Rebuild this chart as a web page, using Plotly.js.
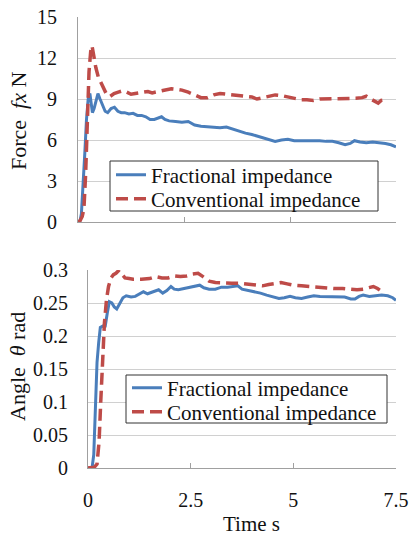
<!DOCTYPE html>
<html>
<head>
<meta charset="utf-8">
<script src="https://cdn.plot.ly/plotly-3.0.1.min.js"></script>
<style>html,body{margin:0;padding:0;background:#fff;}#chart{width:409px;height:537px;}</style>
</head>
<body>
<div id="chart"></div>
<script>
// Force plot (top)
const forceFracT = [0,0.05,0.08,0.12,0.16,0.2,0.24,0.28,0.31,0.34,0.38,0.42,0.47,0.52,0.58,0.64,0.7,0.78,0.86,0.94,1.02,1.1,1.2,1.3,1.4,1.5,1.6,1.7,1.8,1.9,1.97,2.05,2.15,2.3,2.45,2.6,2.75,2.9,3.05,3.2,3.35,3.5,3.65,3.8,3.95,4.1,4.25,4.4,4.55,4.65,4.8,4.95,5.1,5.25,5.4,5.55,5.7,5.85,6.0,6.15,6.3,6.42,6.52,6.65,6.8,6.95,7.1,7.25,7.38,7.5];
const forceFrac = [0,0.1,0.6,2.5,5,7.5,9.0,9.4,8.6,8.0,8.3,8.9,9.4,9.0,8.5,8.1,8.0,8.3,8.4,8.1,8.0,8.0,7.9,7.95,7.8,7.8,7.7,7.5,7.5,7.65,7.7,7.5,7.4,7.35,7.3,7.35,7.1,7.0,6.95,6.95,6.9,6.95,6.8,6.6,6.5,6.4,6.25,6.1,6.0,5.9,6.0,6.05,5.95,5.95,6.0,6.0,5.95,5.9,5.9,5.8,5.65,5.75,5.95,5.85,5.8,5.85,5.8,5.75,5.65,5.5];
const forceConvT = [0,0.05,0.1,0.14,0.18,0.22,0.26,0.3,0.33,0.37,0.42,0.48,0.54,0.6,0.68,0.76,0.85,0.95,1.05,1.15,1.25,1.35,1.5,1.65,1.75,1.9,2.05,2.2,2.35,2.45,2.6,2.75,2.9,3.05,3.2,3.35,3.5,3.65,3.8,3.95,4.1,4.22,4.35,4.5,4.65,4.8,4.95,5.1,5.25,5.4,5.55,5.7,5.85,6.0,6.2,6.4,6.55,6.7,6.8,6.9,7.0,7.08,7.15,7.28];
const forceConv = [0,0.1,0.4,1.0,3.5,7.5,11,12.5,12.9,12.2,11.3,10.6,10.2,9.7,9.3,9.2,9.4,9.5,9.6,9.5,9.35,9.4,9.5,9.55,9.45,9.55,9.6,9.75,9.7,9.65,9.5,9.3,9.1,9.1,9.3,9.4,9.35,9.3,9.3,9.2,9.15,9.0,9.1,9.2,9.3,9.25,9.15,9.05,8.95,8.95,8.9,9.0,9.0,9.0,9.0,9.0,9.05,9.1,9.2,9.0,8.8,8.7,8.9,8.95];

// Angle plot (bottom)
const angleFracT = [0,0.1,0.14,0.18,0.22,0.26,0.3,0.36,0.42,0.47,0.52,0.58,0.64,0.7,0.77,0.85,0.93,1.05,1.15,1.25,1.35,1.45,1.55,1.65,1.72,1.82,1.92,2.02,2.1,2.2,2.35,2.5,2.62,2.72,2.82,2.95,3.1,3.25,3.4,3.55,3.65,3.75,3.9,4.05,4.2,4.35,4.5,4.65,4.78,4.92,5.05,5.2,5.35,5.5,5.65,5.8,5.95,6.1,6.25,6.4,6.5,6.6,6.7,6.85,7.0,7.15,7.3,7.42,7.5];
const angleFrac = [0,0.001,0.02,0.09,0.16,0.19,0.213,0.215,0.215,0.235,0.252,0.25,0.244,0.241,0.25,0.258,0.261,0.259,0.26,0.264,0.267,0.264,0.266,0.268,0.27,0.265,0.269,0.275,0.271,0.27,0.272,0.273,0.275,0.277,0.273,0.271,0.271,0.274,0.274,0.275,0.276,0.271,0.269,0.268,0.265,0.262,0.26,0.257,0.258,0.26,0.258,0.257,0.259,0.261,0.26,0.26,0.259,0.259,0.259,0.256,0.256,0.26,0.262,0.26,0.261,0.262,0.261,0.258,0.254];
const angleConvT = [0,0.15,0.22,0.27,0.31,0.35,0.4,0.45,0.5,0.56,0.62,0.68,0.76,0.82,0.9,1.0,1.1,1.3,1.5,1.65,1.8,1.95,2.1,2.25,2.4,2.55,2.68,2.8,2.95,3.1,3.3,3.5,3.7,3.9,4.1,4.25,4.4,4.55,4.7,4.85,5.0,5.2,5.4,5.6,5.8,6.0,6.2,6.4,6.55,6.7,6.85,6.95,7.05,7.12];
const angleConv = [0,0.001,0.006,0.04,0.1,0.16,0.22,0.255,0.275,0.288,0.293,0.295,0.3,0.294,0.288,0.287,0.286,0.286,0.287,0.29,0.288,0.288,0.291,0.29,0.291,0.294,0.295,0.29,0.283,0.281,0.28,0.28,0.28,0.279,0.277,0.276,0.278,0.28,0.281,0.279,0.277,0.276,0.275,0.273,0.272,0.272,0.272,0.271,0.27,0.271,0.274,0.275,0.272,0.269];

const seriesNames = ['Fractional impedance', 'Conventional impedance'];
const forceTicks = [0,3,6,9,12,15];
const angleTicks = [0,0.05,0.1,0.15,0.2,0.25,0.3];
const angleTickText = ['0','0.05','0.1','0.15','0.2','0.25','0.3'];
const timeTicks = [0,2.5,5,7.5];
const timeTickText = ['0','2.5','5','7.5'];

const blue = '#4a7ebb';
const red = '#be4b48';
const serif = "'Liberation Serif'";
const W = 409, H = 537;
const px = v => v / W;
const py = v => (H - v) / H;

const traces = [
  {x: forceFracT, y: forceFrac, name: seriesNames[0], type: 'scatter', mode: 'lines', xaxis: 'x', yaxis: 'y', legend: 'legend',
   line: {color: blue, width: 3}},
  {x: forceConvT, y: forceConv, name: seriesNames[1], type: 'scatter', mode: 'lines', xaxis: 'x', yaxis: 'y', legend: 'legend2',
   line: {color: red, width: 3.5, dash: '12px,6px'}},
  {x: angleFracT, y: angleFrac, name: seriesNames[0], type: 'scatter', mode: 'lines', xaxis: 'x2', yaxis: 'y2', legend: 'legend3',
   line: {color: blue, width: 3}},
  {x: angleConvT, y: angleConv, name: seriesNames[1], type: 'scatter', mode: 'lines', xaxis: 'x2', yaxis: 'y2', legend: 'legend4',
   line: {color: red, width: 3.5, dash: '12px,6px'}}
];

const gridC = '#d0d0d0';
const axisC = '#a0a0a0';
const tickFont = {family: serif, size: 20, color: '#111'};
const legFont = {family: serif, size: 21, color: '#111'};
const titleFont = {family: serif, size: 22, color: '#111'};

function leg(x, yc) {
  return {x: px(x), y: py(yc), xanchor: 'left', yanchor: 'middle', bgcolor: 'rgba(0,0,0,0)',
    borderwidth: 0, font: legFont, tracegroupgap: 0, itemwidth: 30};
}

const layout = {
  width: W, height: H,
  margin: {l: 0, r: 0, t: 0, b: 0},
  font: {family: serif},
  paper_bgcolor: '#fff', plot_bgcolor: '#fff',
  showlegend: true,
  xaxis: {domain: [px(78), px(396)], anchor: 'y', range: [0, 7.5], tickvals: timeTicks, showticklabels: false,
    ticks: 'inside', ticklen: 5, tickcolor: axisC, showgrid: false, zeroline: false,
    showline: true, linecolor: axisC, linewidth: 1},
  yaxis: {domain: [py(222), py(17)], anchor: 'x', range: [0, 15], tickvals: forceTicks,
    tickfont: tickFont, ticks: '', showgrid: true, gridcolor: gridC, gridwidth: 1, zeroline: false,
    showline: true, linecolor: axisC, linewidth: 1, ticklabelstandoff: 16},
  xaxis2: {domain: [px(88), px(396)], anchor: 'y2', range: [0, 7.5], tickvals: timeTicks, ticktext: timeTickText,
    tickfont: tickFont, ticks: 'inside', ticklen: 5, tickcolor: axisC, showgrid: false, zeroline: false,
    showline: true, linecolor: axisC, linewidth: 1, ticklabelstandoff: 14},
  yaxis2: {domain: [py(468), py(270)], anchor: 'x2', range: [0, 0.3], tickvals: angleTicks, ticktext: angleTickText,
    tickfont: tickFont, ticks: '', showgrid: true, gridcolor: gridC, gridwidth: 1, zeroline: false,
    showline: true, linecolor: axisC, linewidth: 1, ticklabelstandoff: 15},
  legend: leg(111, 175),
  legend2: leg(111, 199),
  legend3: leg(127, 388),
  legend4: leg(127, 412),
  shapes: [
    {type: 'rect', xref: 'paper', yref: 'paper', x0: px(110), x1: px(378), y0: py(211), y1: py(161),
     line: {color: '#333', width: 1}, fillcolor: '#fff', layer: 'above'},
    {type: 'rect', xref: 'paper', yref: 'paper', x0: px(126), x1: px(387), y0: py(423), y1: py(375),
     line: {color: '#333', width: 1}, fillcolor: '#fff', layer: 'above'}
  ],
  annotations: [
    {text: 'Force\u00a0\u00a0<i>fx</i>\u00a0N', xref: 'paper', yref: 'paper', x: px(18), y: py(121), textangle: -90,
     showarrow: false, font: titleFont, xanchor: 'center', yanchor: 'middle'},
    {text: 'Angle\u00a0\u00a0<i>θ</i>\u00a0rad', xref: 'paper', yref: 'paper', x: px(17), y: py(367), textangle: -90,
     showarrow: false, font: titleFont, xanchor: 'center', yanchor: 'middle'},
    {text: 'Time s', xref: 'paper', yref: 'paper', x: px(252), y: 0,
     showarrow: false, font: {family: serif, size: 21, color: '#111'}, xanchor: 'center', yanchor: 'bottom', borderpad: 0}
  ]
};

Plotly.newPlot('chart', traces, layout, {displayModeBar: false, staticPlot: true});
</script>
</body>
</html>
